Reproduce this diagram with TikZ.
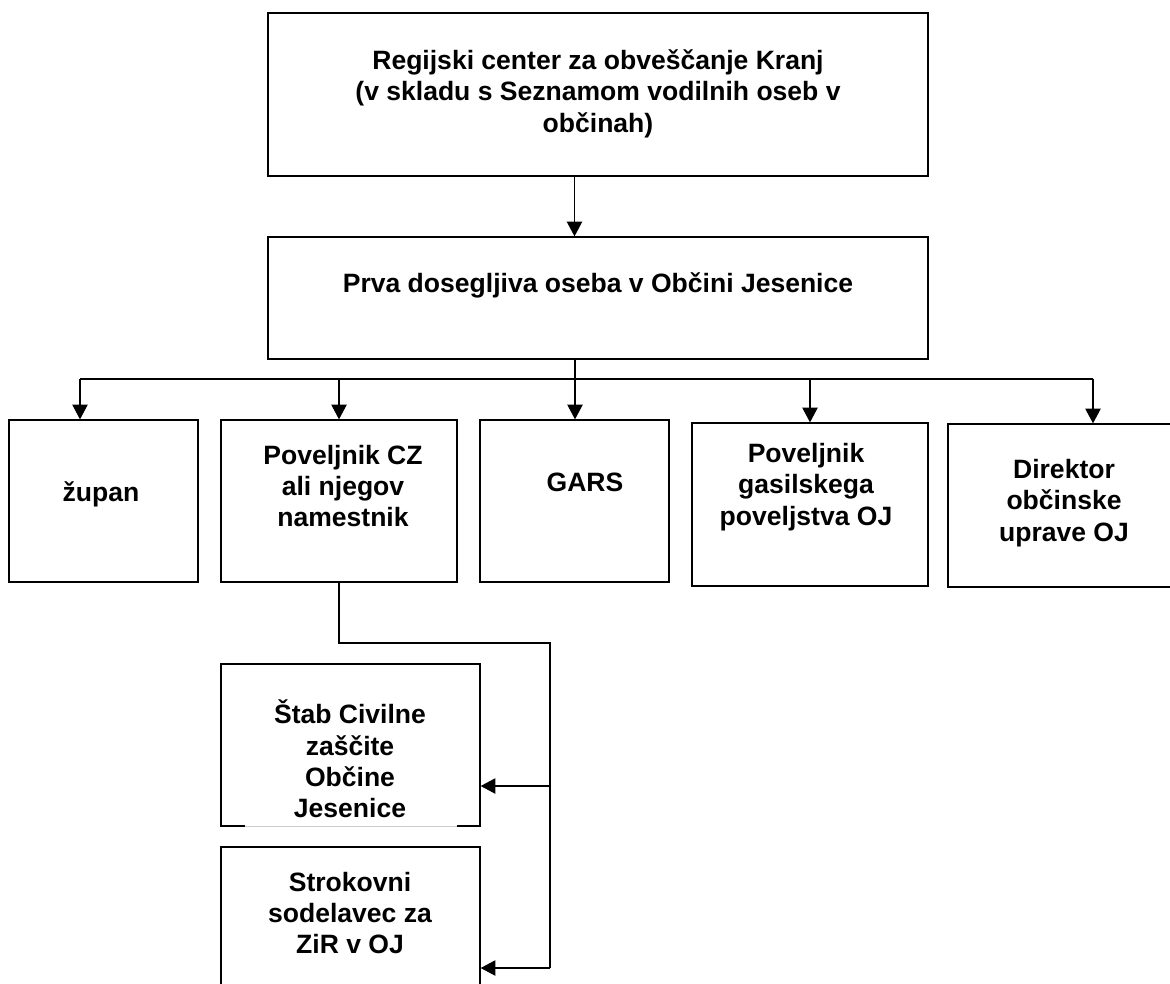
\documentclass[tikz,border=0pt]{standalone}
\usepackage{fontspec}
\setmainfont{Liberation Sans}
\usetikzlibrary{arrows.meta}

\tikzset{
  box/.style={draw, line width=1pt},
  arr/.style={line width=0.8pt, -{Triangle[width=11.5pt, length=11pt]}}
}

\begin{document}
\begin{tikzpicture}[x=0.75pt, y=-0.75pt, every node/.style={align=center, font=\bfseries\fontsize{19.9}{23.6}\selectfont}]
  \useasboundingbox (0,0) rectangle (1170,983);
  \clip (0,0) rectangle (1170,983);

  \node[box, minimum width=495pt, minimum height=122.25pt]
    (RCbox) at (598, 94.5) {};

  \node[]
    (RC) at (598, 93.5)
    {Regijski center za obveščanje Kranj\\
    (v skladu s Seznamom vodilnih oseb v\\
    občinah)
    };

  \node[box, minimum width=495pt, minimum height=91.5pt]
    (PDbox) at (598, 298) {};

  \node[]
    (PD) at (598, 285)
    {Prva dosegljiva oseba v Občini Jesenice};

  \node[box, minimum width=141.75pt, minimum height=121.5pt]
    (ZUbox) at (103.5, 501) {};

  \node[] (ZU) at (101, 494) {župan};

  \node[box, minimum width=177pt, minimum height=121.5pt]
    (PCZbox) at (339, 501) {};

  \node[]
    (PCZ) at (343, 486)
    {Poveljnik CZ\\
    ali njegov\\
    namestnik
    };

  \node[box, minimum width=141.75pt, minimum height=121.5pt]
    (GARSbox) at (574.5, 501) {};

  \node[] (GARS) at (585, 482) {GARS};

  \node[box, minimum width=177pt, minimum height=122.25pt]
    (PGbox) at (810, 504.5) {};

  \node[]
    (PG) at (806, 487)
    {Poveljnik\\
    gasilskega\\
    poveljstva OJ
    };

  \node[box, minimum width=189pt, minimum height=122.25pt]
    (DIRbox) at (1074, 505.5) {};

  \node[]
    (DIR) at (1064, 503)
    {Direktor\\
    občinske\\
    uprave OJ
    };

  \node[box, minimum width=194.25pt, minimum height=121.5pt]
    (STbox) at (350.5, 745) {};
  \draw[white, line width=1.6pt] (245, 826) -- (457, 826);
  \draw[black!20, line width=0.4pt] (245, 826) -- (457, 826);

  \node[]
    (ST) at (350, 759)
    {Štab Civilne\\
    zaščite\\
    Občine\\
    Jesenice
    };

  \node[box, minimum width=194.25pt, minimum height=122.25pt]
    (SRbox) at (350.5, 928.5) {};

  \node[]
    (SR) at (350, 913)
    {Strokovni\\
    sodelavec za\\
    ZiR v OJ
    };

  \coordinate (bus) at (575, 379);
  \coordinate (ZUin) at (80, 379);
  \coordinate (DIRin) at (1093, 379);
  \coordinate (turn) at (550, 643);
  \coordinate (STin) at (550, 786);
  \coordinate (SRin) at (550, 968);

  \draw[arr] (RCbox.south -| GARSbox) -- (PDbox.north -| GARSbox);
  \draw[line width=0.8pt] (PDbox.south -| bus) -- (bus);
  \draw[line width=0.8pt] (ZUin) -- (DIRin);

  \draw[arr] (ZUin) -- (ZUin |- ZUbox.north);
  \draw[arr] (bus -| PCZbox) -- (PCZbox.north);
  \draw[arr] (bus) -- (GARSbox.north -| bus);
  \draw[arr] (bus -| PGbox) -- (PGbox.north);
  \draw[arr] (DIRin) -- (DIRin |- DIRbox.north);

  \draw[line width=0.8pt] (PCZbox.south) |- (turn) -- (SRin);
  \draw[arr] (STin) -- (STin -| STbox.east);
  \draw[arr] (SRin) -- (SRin -| SRbox.east);

\end{tikzpicture}
\end{document}
